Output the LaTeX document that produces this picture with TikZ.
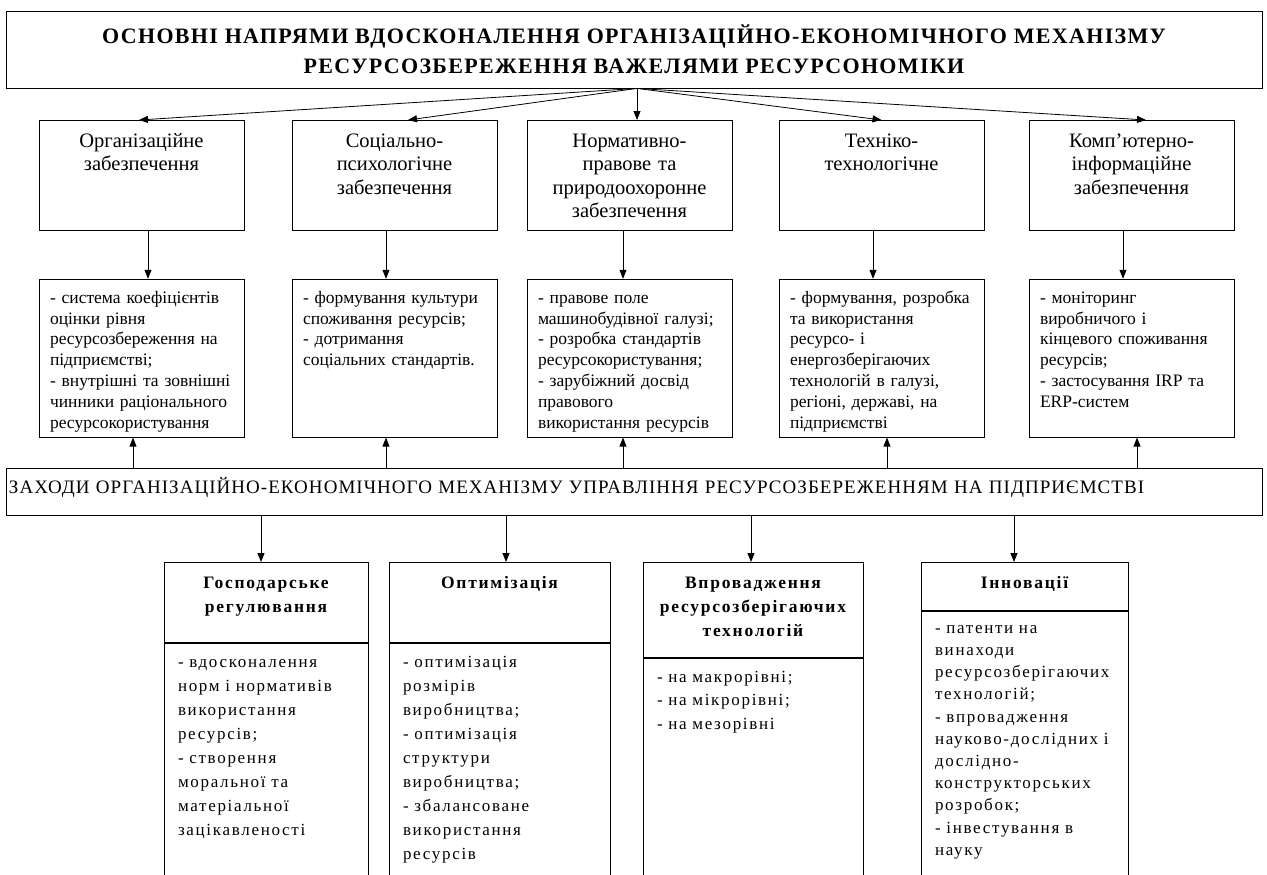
\documentclass[tikz,border=0pt]{standalone}
\usepackage{fontspec}
\setmainfont{Liberation Serif}
\usepackage{tikz}
\usetikzlibrary{arrows.meta, positioning, calc}
\tikzset{
         mytitle/.style={draw, align=center, minimum width=1256pt, minimum height=77pt, font=\bfseries\fontsize{22}{30}\selectfont\addfontfeatures{LetterSpace=6}},
         mydir/.style={draw, anchor=north, align=center, text width=197pt, inner xsep=4pt, inner ysep=0pt, text height=27pt, text depth=83pt, font=\fontsize{20.5}{23.5}\selectfont},
         mylist/.style={draw, anchor=north, align=left, text width=183pt, inner xsep=11pt, inner ysep=0pt, text height=24pt, text depth=134pt, font=\fontsize{17.5}{20.8}\selectfont},
         mybar/.style={draw, anchor=north, align=left, text width=1250pt, inner xsep=3pt, inner ysep=0pt, text height=25pt, text depth=22pt, font=\fontsize{19}{22}\selectfont\addfontfeatures{LetterSpace=5.5}},
         myhead/.style={draw, anchor=north, align=center, inner xsep=4pt, inner ysep=0pt, text height=26pt, font=\bfseries\fontsize{17.5}{24}\selectfont\addfontfeatures{LetterSpace=10}},
         mybody/.style={draw, align=left, inner xsep=14pt, inner ysep=0pt, text height=24pt, text depth=300pt, font=\fontsize{17}{24}\selectfont\addfontfeatures{LetterSpace=10}}
      }

\begin{document}
\begin{tikzpicture}[->,>={Triangle[length=9pt,width=7pt]},auto,
              x=1pt,y=-1pt,thick]
  \useasboundingbox (0,0) rectangle (1267,875);
  \clip (0,0) rectangle (1267,875);

  \node[mytitle] (main) at (634,49.5) {ОСНОВНІ НАПРЯМИ ВДОСКОНАЛЕННЯ ОРГАНІЗАЦІЙНО-ЕКОНОМІЧНОГО МЕХАНІЗМУ\\ РЕСУРСОЗБЕРЕЖЕННЯ ВАЖЕЛЯМИ РЕСУРСОНОМІКИ};

  % directions
  \node[mydir] (dirA) at (141.5,120) {Організаційне\\забезпечення};
  \node[mydir] (dirB) at (394.5,120) {Соціально-\\психологічне\\забезпечення};
  \node[mydir] (dirC) at (629.5,120) {Нормативно-\\правове та\\природоохоронне\\забезпечення};
  \node[mydir] (dirD) at (881.5,120) {Техніко-\\технологічне};
  \node[mydir] (dirE) at (1131.5,120) {Комп’ютерно-\\інформаційне\\забезпечення};

  \node[mylist, below=48pt of dirA] (listA) {- система коефіцієнтів\\оцінки рівня\\ресурсозбереження на\\підприємстві;\\- внутрішні та зовнішні\\чинники раціонального\\ресурсокористування};
  \node[mylist, below=48pt of dirB] (listB) {- формування культури\\споживання ресурсів;\\- дотримання\\соціальних стандартів.};
  \node[mylist, below=48pt of dirC] (listC) {- правове поле\\машинобудівної галузі;\\- розробка стандартів\\ресурсокористування;\\- зарубіжний досвід\\правового\\використання ресурсів};
  \node[mylist, below=48pt of dirD] (listD) {- формування, розробка\\та використання\\ресурсо- і\\енергозберігаючих\\технологій в галузі,\\регіоні, державі, на\\підприємстві};
  \node[mylist, below=48pt of dirE] (listE) {- моніторинг\\виробничого і\\кінцевого споживання\\ресурсів;\\- застосування IRP та\\ERP-систем};

  \node[mybar] (bar) at (634,468) {ЗАХОДИ ОРГАНІЗАЦІЙНО-ЕКОНОМІЧНОГО МЕХАНІЗМУ УПРАВЛІННЯ РЕСУРСОЗБЕРЕЖЕННЯМ НА ПІДПРИЄМСТВІ};

  % measures
  \node[myhead, text width=196pt, text depth=54pt] (headA) at (266,562) {Господарське\\регулювання};
  \node[myhead, text width=213pt, text depth=54pt] (headB) at (499.5,562) {Оптимізація};
  \node[myhead, text width=212pt, text depth=69pt] (headC) at (753,562) {Впровадження\\ресурсозберігаючих\\технологій};
  \node[myhead, text width=199pt, text depth=22pt] (headD) at (1024.5,562) {Інновації};

  \node[mybody, text width=176pt, below=0pt of headA] (bodyA) {- вдосконалення\\норм і нормативів\\використання\\ресурсів;\\- створення\\моральної та\\матеріальної\\зацікавленості};
  \node[mybody, text width=193pt, below=0pt of headB] (bodyB) {- оптимізація\\розмірів\\виробництва;\\- оптимізація\\структури\\виробництва;\\- збалансоване\\використання\\ресурсів};
  \node[mybody, text width=192pt, below=0pt of headC, font=\fontsize{17}{23.5}\selectfont\addfontfeatures{LetterSpace=10}] (bodyC) {- на макрорівні;\\- на мікрорівні;\\- на мезорівні};
  \node[mybody, text width=179pt, below=0pt of headD, text height=22pt, font=\fontsize{17}{22.2}\selectfont\addfontfeatures{LetterSpace=10}] (bodyD) {- патенти на\\винаходи\\ресурсозберігаючих\\технологій;\\- впровадження\\науково-дослідних і\\дослідно-\\конструкторських\\розробок;\\- інвестування в\\науку};

  % connectors
  \draw ([xshift=3pt]main.south) -- ([xshift=-2.5pt]dirA.north);
  \draw ([xshift=3pt]main.south) -- ([xshift=13.5pt]dirB.north);
  \draw ([xshift=3pt]main.south) -- ([xshift=7.5pt]dirC.north);
  \draw ([xshift=3pt]main.south) -- (dirD.north);
  \draw ([xshift=3pt]main.south) -- ([xshift=14.5pt]dirE.north);

  \draw ([xshift=6.5pt]dirA.south) -- ([xshift=6.5pt]listA.north);
  \draw ([xshift=-8.5pt]dirB.south) -- ([xshift=-8.5pt]listB.north);
  \draw ([xshift=-6.5pt]dirC.south) -- ([xshift=-6.5pt]listC.north);
  \draw ([xshift=-8.5pt]dirD.south) -- ([xshift=-8.5pt]listD.north);
  \draw ([xshift=-8.5pt]dirE.south) -- ([xshift=-8.5pt]listE.north);

  \draw ([xshift=-8.5pt]listA.south |- bar.north) -- ([xshift=-8.5pt]listA.south);
  \draw ([xshift=-8.5pt]listB.south |- bar.north) -- ([xshift=-8.5pt]listB.south);
  \draw ([xshift=-6.5pt]listC.south |- bar.north) -- ([xshift=-6.5pt]listC.south);
  \draw ([xshift=5.5pt]listD.south |- bar.north) -- ([xshift=5.5pt]listD.south);
  \draw ([xshift=5.5pt]listE.south |- bar.north) -- ([xshift=5.5pt]listE.south);

  \draw ([xshift=-5pt]headA.north |- bar.south) -- ([xshift=-5pt]headA.north);
  \draw ([xshift=6.5pt]headB.north |- bar.south) -- ([xshift=6.5pt]headB.north);
  \draw ([xshift=-2pt]headC.north |- bar.south) -- ([xshift=-2pt]headC.north);
  \draw ([xshift=-10.5pt]headD.north |- bar.south) -- ([xshift=-10.5pt]headD.north);
\end{tikzpicture}
\end{document}
